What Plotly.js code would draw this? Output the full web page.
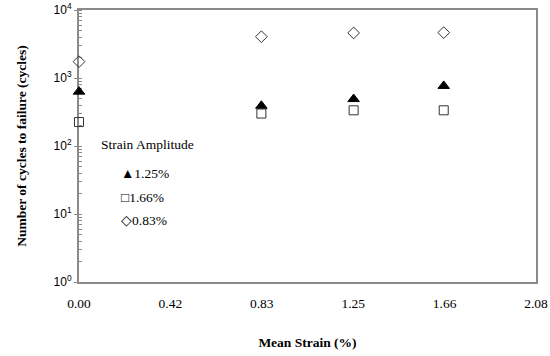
<!DOCTYPE html>
<html>
<head>
<meta charset="utf-8">
<script src="https://cdn.plot.ly/plotly-3.0.1.min.js"></script>
<style>html,body{margin:0;padding:0;background:#fff;}#chart{width:550px;height:356px;}</style>
</head>
<body>
<div id="chart"></div>
<script>
// Data
var meanStrain = [0.00, 0.83, 1.25, 1.66];
var cycles_125 = [630, 390, 490, 765];   // Strain amplitude 1.25% (filled triangle)
var cycles_166 = [225, 300, 335, 335];   // Strain amplitude 1.66% (open square)
var cycles_083 = [1740, 4050, 4600, 4650]; // Strain amplitude 0.83% (open diamond)

var xTickVals = [0, 0.416, 0.832, 1.248, 1.664, 2.08];
var xTickText = ["0.00", "0.42", "0.83", "1.25", "1.66", "2.08"];
var yTickVals = [1, 10, 100, 1000, 10000];
var yTickText = ["10<sup>0</sup>", "10<sup>1</sup>", "10<sup>2</sup>", "10<sup>3</sup>", "10<sup>4</sup>"];
var legendTitle = "Strain Amplitude";
var legendLabels = ["\u25B21.25%", "\u25A11.66%", "\u25C70.83%"];

var serif = "'Liberation Serif', 'Times New Roman', serif";
var sans = "'Liberation Sans', Arial, sans-serif";

var traces = [
  {x: meanStrain, y: cycles_125, name: "1.25%", mode: "markers", type: "scatter", cliponaxis: false,
   marker: {symbol: "triangle-up", size: 10, color: "#000", line: {color: "#000", width: 1}}},
  {x: meanStrain, y: cycles_166, name: "1.66%", mode: "markers", type: "scatter", cliponaxis: false,
   marker: {symbol: "square-open", size: 9, color: "#333", line: {color: "#333", width: 1}}},
  {x: meanStrain, y: cycles_083, name: "0.83%", mode: "markers", type: "scatter", cliponaxis: false,
   marker: {symbol: "diamond-open", size: 9, color: "#333", line: {color: "#333", width: 1}}}
];

function px2x(px) { return (px - 79) / 457; }
function py2y(py) { return (282 - py) / 272; }

var annotations = [
  {text: legendTitle, x: px2x(99), y: py2y(144), xref: "paper", yref: "paper",
   xanchor: "left", yanchor: "middle", showarrow: false, font: {family: serif, size: 13.5, color: "#000"}}
];
var legendY = [173, 197, 220];
for (var i = 0; i < legendLabels.length; i++) {
  annotations.push({text: legendLabels[i], x: px2x(119), y: py2y(legendY[i]), xref: "paper", yref: "paper",
    xanchor: "left", yanchor: "middle", showarrow: false, font: {family: serif, size: 13.5, color: "#000"}});
}

var layout = {
  width: 550, height: 356,
  margin: {l: 79, r: 14, t: 10, b: 74},
  paper_bgcolor: "#fff", plot_bgcolor: "#fff",
  showlegend: false,
  xaxis: {
    range: [0, 2.08], tickvals: xTickVals, ticktext: xTickText,
    showgrid: false, zeroline: false, showline: true, mirror: true, layer: "below traces",
    linecolor: "#8a8a8a", linewidth: 2, ticks: "", ticklabelstandoff: 8,
    tickfont: {family: serif, size: 13.5, color: "#000"},
    title: {text: "<b>Mean Strain (%)</b>", font: {family: serif, size: 13.5, color: "#000"}, standoff: 27},
    automargin: false
  },
  yaxis: {
    type: "log", range: [0, 4], tickvals: yTickVals, ticktext: yTickText,
    showgrid: false, zeroline: false, showline: true, mirror: true, layer: "below traces",
    linecolor: "#8a8a8a", linewidth: 2, ticks: "outside", ticklen: 3, tickcolor: "#8a8a8a", tickwidth: 1,
    minor: {dtick: "D1", ticks: "inside", ticklen: 3, tickcolor: "#8a8a8a", tickwidth: 1, showgrid: false},
    tickfont: {family: sans, size: 12, color: "#000"},
    title: {text: "<b>Number of cycles to failure (cycles)</b>", font: {family: serif, size: 13.5, color: "#000"}, standoff: 24},
    automargin: false
  },
  annotations: annotations
};

Plotly.newPlot("chart", traces, layout, {displayModeBar: false, staticPlot: true});
</script>
</body>
</html>
